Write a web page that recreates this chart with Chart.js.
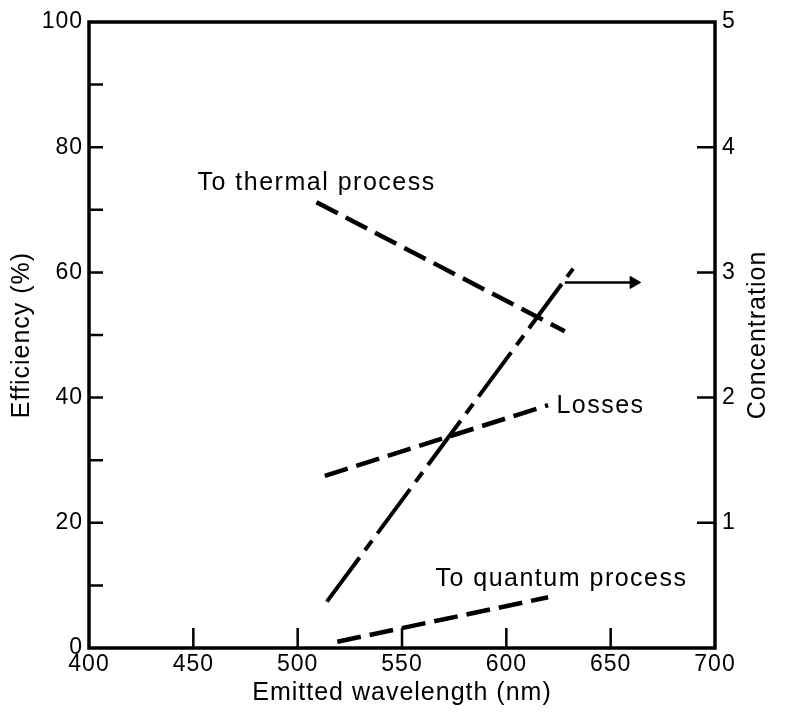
<!DOCTYPE html>
<html>
<head>
<meta charset="utf-8">
<script src="https://cdn.jsdelivr.net/npm/chart.js@4.4.0/dist/chart.umd.min.js"></script>
<style>
  html, body { margin: 0; padding: 0; background: #fff; }
  #wrap { width: 786px; height: 717px; }
</style>
</head>
<body>
<div id="wrap"><canvas id="effChart"></canvas></div>
<script>
// efficiency (%) vs emitted wavelength (nm)
var thermalX = [509, 628];
var thermalY = [71.2, 50.6];
var lossesX = [513, 620];
var lossesY = [27.5, 38.8];
var quantumX = [519, 620];
var quantumY = [1.0, 8.1];
// concentration, right axis
var concX = [514, 632];
var concY = [0.37, 3.03];
var arrowX = [628, 661];
var arrowY = [2.92, 2.92];

var xTicks = [400, 450, 500, 550, 600, 650, 700];
var effTicks = [0, 20, 40, 60, 80, 100];
var concTicks = [0, 1, 2, 3, 4, 5];

var notes = ["To thermal process", "Losses", "To quantum process"];
var noteX = [452, 624, 566];
var noteY = [73.2, 37.5, 9.9];

var FONT = '"Liberation Sans", Arial, Helvetica, sans-serif';

function pts(xs, ys) {
  return xs.map(function (x, i) { return { x: x, y: ys[i] }; });
}

var framePlugin = {
  id: 'frame',
  beforeUpdate: function (chart) { chart.ctx.letterSpacing = '1px'; },
  beforeDraw: function (chart) { chart.ctx.letterSpacing = '1px'; },
  afterDraw: function (chart) {
    var ctx = chart.ctx, a = chart.chartArea;
    var sx = chart.scales.x, sy = chart.scales.y, sy2 = chart.scales.y2;
    var i, p;
    ctx.save();
    ctx.strokeStyle = '#000';
    ctx.lineWidth = 3.5;
    ctx.strokeRect(a.left, a.top, a.right - a.left, a.bottom - a.top);

    // inward tick marks
    ctx.lineWidth = 2.5;
    ctx.beginPath();
    for (i = 1; i < xTicks.length - 1; i++) {
      p = sx.getPixelForValue(xTicks[i]);
      ctx.moveTo(p, a.bottom);
      ctx.lineTo(p, a.bottom - 20);
    }
    for (i = 10; i < 100; i += 10) {
      p = sy.getPixelForValue(i);
      ctx.moveTo(a.left, p);
      ctx.lineTo(a.left + 14, p);
    }
    for (i = 1; i < concTicks.length - 1; i++) {
      p = sy2.getPixelForValue(concTicks[i]);
      ctx.moveTo(a.right, p);
      ctx.lineTo(a.right - 18, p);
    }
    ctx.stroke();

    // curve labels
    ctx.fillStyle = '#000';
    ctx.font = '25px ' + FONT;
    ctx.letterSpacing = '1.5px';
    ctx.textAlign = 'left';
    ctx.textBaseline = 'alphabetic';
    for (i = 0; i < notes.length; i++) {
      ctx.fillText(notes[i], sx.getPixelForValue(noteX[i]), sy.getPixelForValue(noteY[i]));
    }

    // right axis title, reading upwards
    ctx.font = '25px ' + FONT;
    ctx.letterSpacing = '1px';
    ctx.translate(sy2.right - 28, (a.top + a.bottom) / 2);
    ctx.rotate(-Math.PI / 2);
    ctx.textAlign = 'center';
    ctx.textBaseline = 'middle';
    ctx.fillText('Concentration', 0, 0);
    ctx.restore();
  }
};

var dashed = [24, 9];

new Chart(document.getElementById('effChart'), {
  type: 'line',
  data: {
    datasets: [{
      data: pts(thermalX, thermalY),
      yAxisID: 'y',
      borderColor: '#000',
      borderWidth: 4.5,
      borderDash: dashed,
      pointRadius: 0
    }, {
      data: pts(lossesX, lossesY),
      yAxisID: 'y',
      borderColor: '#000',
      borderWidth: 4.5,
      borderDash: dashed,
      pointRadius: 0
    }, {
      data: pts(quantumX, quantumY),
      yAxisID: 'y',
      borderColor: '#000',
      borderWidth: 4.5,
      borderDash: dashed,
      pointRadius: 0
    }, {
      data: pts(concX, concY),
      yAxisID: 'y2',
      borderColor: '#000',
      borderWidth: 4,
      borderDash: [55, 9, 12, 9],
      pointRadius: 0
    }, {
      data: pts(arrowX, arrowY),
      yAxisID: 'y2',
      borderColor: '#000',
      backgroundColor: '#000',
      borderWidth: 2.5,
      pointStyle: 'triangle',
      rotation: 90,
      pointRadius: [0, 7],
      pointBorderWidth: 1
    }]
  },
  options: {
    responsive: true,
    maintainAspectRatio: false,
    animation: false,
    layout: { padding: { top: 22, left: 0, right: 0, bottom: 0 } },
    plugins: { legend: { display: false }, tooltip: { enabled: false } },
    scales: {
      x: {
        type: 'linear',
        min: 400,
        max: 700,
        afterBuildTicks: function (s) { s.ticks = xTicks.map(function (v) { return { value: v }; }); },
        afterFit: function (s) { s.height = 69; },
        grid: { display: false, drawTicks: false },
        border: { display: false },
        ticks: { color: '#000', padding: 3, maxRotation: 0, font: { family: FONT, size: 23 } },
        title: {
          display: true,
          text: 'Emitted wavelength (nm)',
          color: '#000',
          font: { family: FONT, size: 25 },
          padding: { top: 0, bottom: 9 }
        }
      },
      y: {
        position: 'left',
        min: 0,
        max: 100,
        afterBuildTicks: function (s) { s.ticks = effTicks.map(function (v) { return { value: v }; }); },
        afterFit: function (s) { s.width = 89; },
        grid: { display: false, drawTicks: false },
        border: { display: false },
        ticks: { color: '#000', padding: 6, font: { family: FONT, size: 23 } },
        title: {
          display: true,
          text: 'Efficiency (%)',
          color: '#000',
          font: { family: FONT, size: 25 },
          padding: { top: 7, bottom: 0 }
        }
      },
      y2: {
        position: 'right',
        min: 0,
        max: 5,
        afterBuildTicks: function (s) { s.ticks = concTicks.map(function (v) { return { value: v }; }); },
        afterFit: function (s) { s.width = 71; },
        grid: { display: false, drawTicks: false },
        border: { display: false },
        ticks: {
          color: '#000',
          padding: 7,
          font: { family: FONT, size: 23 },
          callback: function (v) { return v === 0 ? '' : v; }
        }
      }
    }
  },
  plugins: [framePlugin]
});
</script>
</body>
</html>
